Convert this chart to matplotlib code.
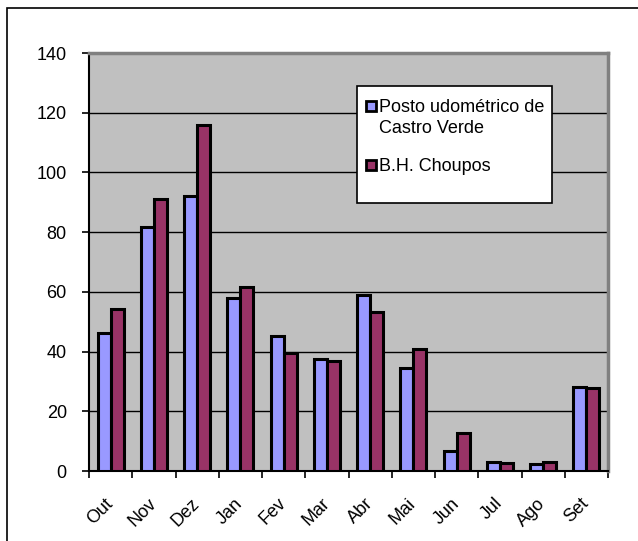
import numpy as np
import matplotlib.pyplot as plt
from matplotlib.patches import Rectangle

plt.rcParams['font.family'] = ['Liberation Sans', 'DejaVu Sans']

# Precipitação mensal (mm)
meses = ['Out', 'Nov', 'Dez', 'Jan', 'Fev', 'Mar', 'Abr', 'Mai', 'Jun', 'Jul', 'Ago', 'Set']
castro_verde = [46.1, 81.7, 92.1, 57.8, 45.3, 37.4, 58.9, 34.4, 6.7, 3.1, 2.3, 28.2]
choupos = [54.2, 91.0, 115.9, 61.7, 39.4, 36.9, 53.1, 41.0, 12.6, 2.6, 2.9, 27.7]
legenda = ['Posto udométrico de\nCastro Verde', 'B.H. Choupos']
cores = ['#9999FF', '#993366']

W, H = 638, 541
fig = plt.figure(figsize=(W / 100, H / 100), dpi=100)
ax = fig.add_axes([89 / W, 70 / H, 519 / W, 418 / H])


def px(x, y):
    # pixel (a partir do canto superior esquerdo) -> coordenadas da figura
    return x / W, 1 - y / H


# moldura exterior do gráfico
fig.patches.append(Rectangle((7 / W, -0.05), 1.2, (H - 8) / H + 0.05,
                             transform=fig.transFigure, fill=False,
                             edgecolor='black', linewidth=1.2))

x = np.arange(len(meses))
w = 0.3
ax.set_facecolor('#C0C0C0')
ax.bar(x - w / 2, castro_verde, w, color=cores[0], edgecolor='black',
       linewidth=2.2, zorder=3)
ax.bar(x + w / 2, choupos, w, color=cores[1], edgecolor='black',
       linewidth=2.2, zorder=3)

ax.set_xlim(-0.5, len(meses) - 0.5)
ax.set_ylim(0, 140)
ax.set_yticks(range(0, 141, 20))
ax.yaxis.grid(True, color='black', linewidth=1.0, zorder=1)
ax.set_axisbelow(True)

ax.set_xticks(x)
ax.set_xticklabels(meses, rotation=45, ha='right', va='center',
                   rotation_mode='anchor', fontsize=13)
ax.tick_params(axis='x', length=0, pad=21.5)
ax.set_xticks(np.arange(-0.5, len(meses)), minor=True)
ax.tick_params(axis='x', which='minor', length=5, width=1.2, direction='out')
ax.tick_params(axis='y', labelsize=13, length=5, width=1.2, direction='out', pad=11)

for s in ['left', 'bottom']:
    ax.spines[s].set_color('black')
    ax.spines[s].set_linewidth(1.5)
for s in ['top', 'right']:
    ax.spines[s].set_color('#808080')
    ax.spines[s].set_linewidth(2.5)

# legenda desenhada à mão: marcador alinhado com a primeira linha do texto
fig.patches.append(Rectangle(px(357, 203), 195 / W, 117 / H,
                             transform=fig.transFigure, facecolor='white',
                             edgecolor='black', linewidth=1.2, zorder=5))
for i, (txt, cor) in enumerate(zip(legenda, cores)):
    base = [112, 171][i]
    fig.patches.append(Rectangle(px(366, base - 1), 10 / W, 10 / H,
                                 transform=fig.transFigure, facecolor=cor,
                                 edgecolor='black', linewidth=2.0, zorder=6))
    linhas = txt.split('\n')
    for j, linha in enumerate(linhas):
        fig.text(*px(379, base + 21 * j), linha, fontsize=13,
                 va='baseline', ha='left', zorder=7)

fig.savefig('out.png', dpi=100)
